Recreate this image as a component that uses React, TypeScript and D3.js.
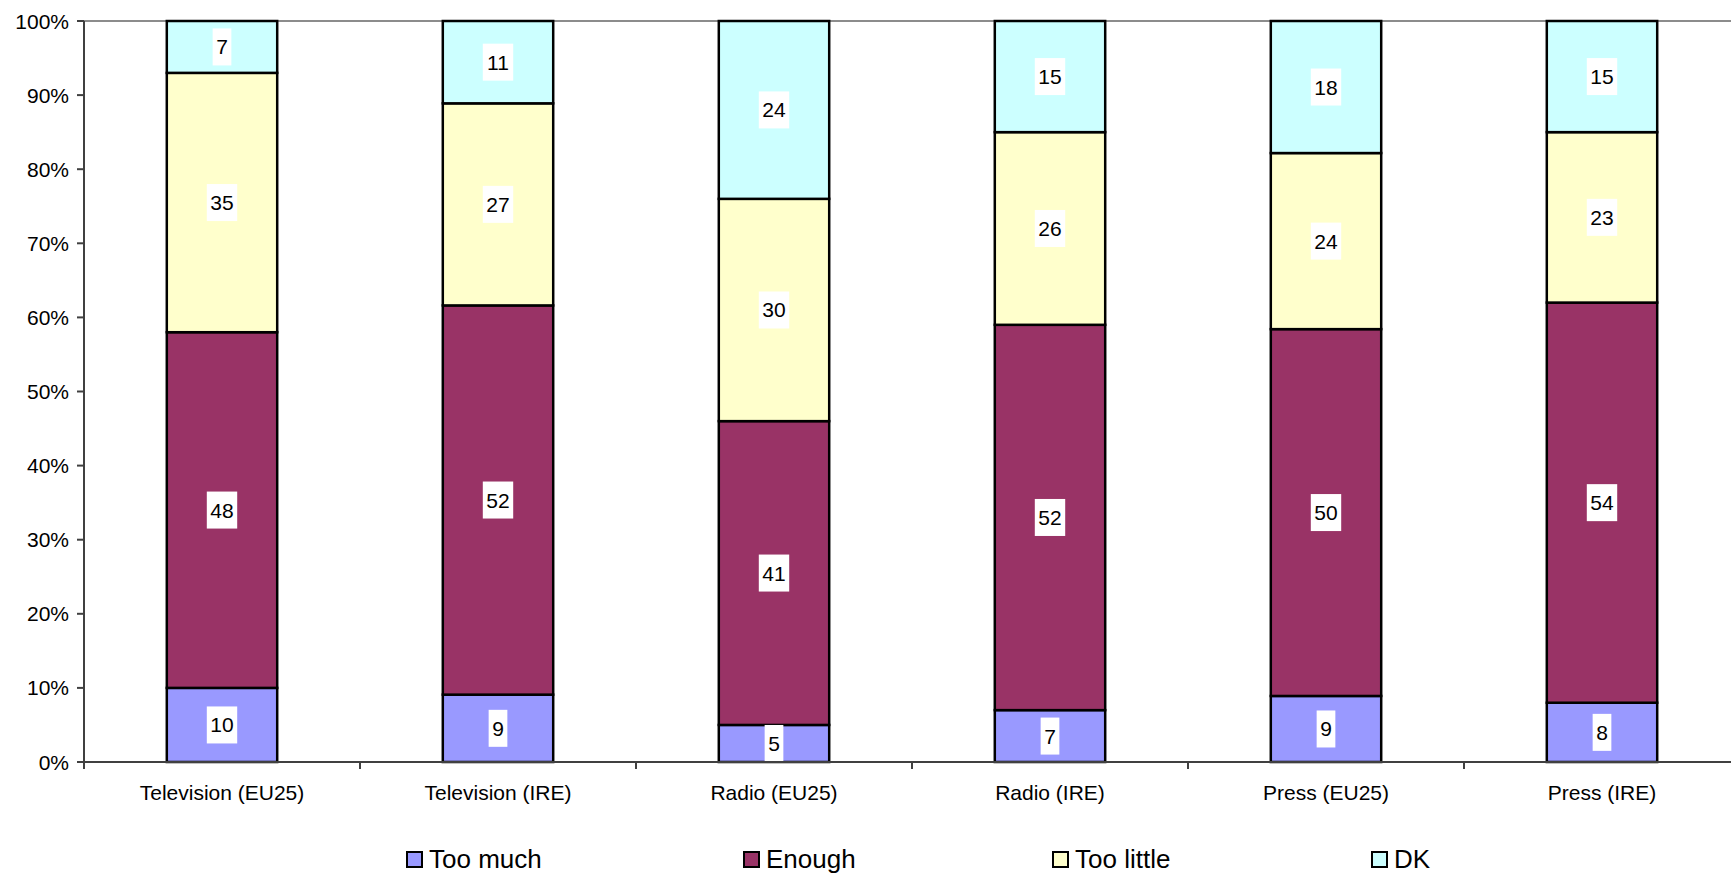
import React from "react";
import * as d3 from "d3";

const categories = ["Television (EU25)", "Television (IRE)", "Radio (EU25)", "Radio (IRE)", "Press (EU25)", "Press (IRE)"];
const seriesNames = ["Too much", "Enough", "Too little", "DK"];
const seriesColors = ["#9999FF", "#993366", "#FFFFCC", "#CCFFFF"];
const tooMuch = [10, 9, 5, 7, 9, 8];
const enough = [48, 52, 41, 52, 50, 54];
const tooLittle = [35, 27, 30, 26, 24, 23];
const dk = [7, 11, 24, 15, 18, 15];
const yTicks = [0, 0.1, 0.2, 0.3, 0.4, 0.5, 0.6, 0.7, 0.8, 0.9, 1];
const legendX = [406, 743, 1052, 1371];

const W = 1731, H = 873;
const left = 84, top = 21, bottom = 762;
const band = 276;

export default function App() {
  const seriesValues = [tooMuch, enough, tooLittle, dk];
  const rows = categories.map((c, i) => {
    const r: any = { cat: c };
    seriesNames.forEach((s, j) => (r[s] = seriesValues[j][i]));
    return r;
  });
  const stacked = d3.stack().keys(seriesNames).offset(d3.stackOffsetExpand)(rows);
  const x = d3.scaleBand().domain(categories).range([left, left + band * categories.length]).paddingInner(0.6).paddingOuter(0.3);
  const xb = d3.scaleBand().domain(categories).range([left, left + band * categories.length]);
  const y = d3.scaleLinear().domain([0, 1]).range([bottom, top]);
  const font = "Arial, 'Liberation Sans', sans-serif";

  return (
    <svg width={W} height={H} style={{ position: "absolute", left: 0, top: 0, background: "#fff" }} fontFamily={font}>
      {/* top plot border */}
      <line x1={left} x2={W} y1={y(1)} y2={y(1)} stroke="#8c8c8c" strokeWidth={2} />
      {/* bars */}
      {stacked.map((s, j) => (
        <g key={s.key}>
          {s.map((d, i) => {
            const x0 = x(categories[i])!;
            const w = x.bandwidth();
            const y0 = y(d[1]);
            const y1 = y(d[0]);
            return <rect key={i} x={x0} y={y0} width={w} height={y1 - y0} fill={seriesColors[j]} stroke="#000" strokeWidth={2.5} />;
          })}
        </g>
      ))}
      {/* labels */}
      {stacked.map((s, j) => (
        <g key={"l" + s.key}>
          {s.map((d, i) => {
            const cx = x(categories[i])! + x.bandwidth() / 2;
            const cy = (y(d[0]) + y(d[1])) / 2;
            const txt = String(seriesValues[j][i]);
            const tw = txt.length * 11.7 + 7;
            return (
              <g key={i}>
                <rect x={cx - tw / 2} y={cy - 18.5} width={tw} height={37} fill="#fff" />
                <text x={cx} y={cy} textAnchor="middle" dominantBaseline="central" fontSize={21} fill="#000">{txt}</text>
              </g>
            );
          })}
        </g>
      ))}
      {/* y axis */}
      <line x1={left} x2={left} y1={top} y2={bottom} stroke="#404040" strokeWidth={2} />
      {yTicks.map((t) => (
        <g key={t}>
          <line x1={left - 7} x2={left} y1={y(t)} y2={y(t)} stroke="#404040" strokeWidth={2} />
          <text x={69} y={y(t)} textAnchor="end" dominantBaseline="central" fontSize={21} fill="#000">{d3.format(".0%")(t)}</text>
        </g>
      ))}
      {/* x axis */}
      <line x1={left} x2={W} y1={bottom} y2={bottom} stroke="#404040" strokeWidth={2} />
      {categories.map((c, i) => (
        <g key={c}>
          <line x1={xb(c)!} x2={xb(c)!} y1={bottom} y2={bottom + 7} stroke="#404040" strokeWidth={2} />
          <text x={xb(c)! + xb.bandwidth() / 2} y={800} textAnchor="middle" fontSize={21} fill="#000">{c}</text>
        </g>
      ))}
      {/* legend */}
      {seriesNames.map((s, j) => (
        <g key={"leg" + s}>
          <rect x={legendX[j] + 1} y={852} width={15} height={15} fill={seriesColors[j]} stroke="#000" strokeWidth={2} />
          <text x={legendX[j] + 23} y={868} fontSize={26} fill="#000">{s}</text>
        </g>
      ))}
    </svg>
  );
}
